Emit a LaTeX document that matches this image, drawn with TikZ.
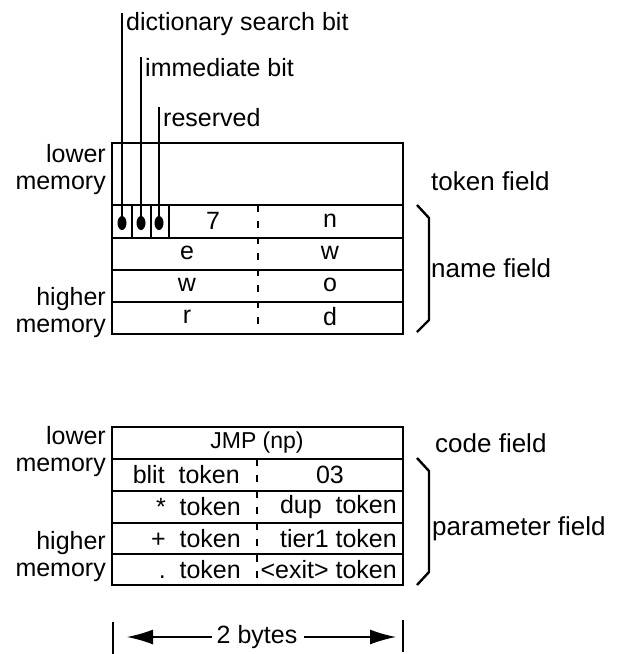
\documentclass[tikz,border=0pt]{standalone}
\usepackage{fontspec}
\setmainfont{Liberation Sans}
\usetikzlibrary{arrows.meta,positioning,shapes.geometric}

\begin{document}
\begin{tikzpicture}[
  x=1pt, y=-1pt,
  >={Latex[length=26pt,width=15pt]},
  every node/.style={font=\fontsize{25}{27}\selectfont, inner sep=0pt},
  frame/.style={line width=2pt},
  row/.style={line width=1.8pt},
  split/.style={line width=1.6pt, dash pattern=on 7pt off 9pt},
  bitdot/.style={ellipse, fill, minimum width=9pt, minimum height=14pt},
  lead/.style={line width=1.6pt},
  memlab/.style={align=right, anchor=east},
  fieldlab/.style={anchor=west},
  brace/.style={line width=2.4pt, line join=round},
  dim/.style={line width=1.5pt}
]
\useasboundingbox (0,0) rectangle (620,654);

% header: token field and name field
\draw[frame] (112,143) rectangle (403,334);
\foreach \y in {205,238,270,302} \draw[row] (112,\y) -- (403,\y);
\draw[split] (258,205) -- (258,334);
\foreach \x in {132,151,169} \draw[row] (\x,205) -- (\x,238);

% flag bits
\node[bitdot] (dsb) at (122,223) {};
\node[bitdot] (imm) at (141,223) {};
\node[bitdot] (res) at (159,223) {};
\coordinate (dsbtop) at (122,13);
\coordinate (immtop) at (141,57);
\coordinate (restop) at (159,107);
\draw[lead] (dsbtop) -- (dsb);
\draw[lead] (immtop) -- (imm);
\draw[lead] (restop) -- (res);
\node[anchor=west] (dsbtxt) at (126,24) {dictionary search bit};
\node[anchor=west] (immtxt) at (145,68) {immediate bit};
\node[anchor=west] (restxt) at (163,118) {reserved};

% name characters
\node (len) at (213,221) {7};
\node (ch1) at (330,221) {n};
\node (ch2) at (187,253) {e};
\node (ch3) at (330,253) {w};
\node (ch4) at (187,285) {w};
\node (ch5) at (330,285) {o};
\node (ch6) at (187,317) {r};
\node (ch7) at (330,317) {d};

\node[memlab] (lowtop) at (106,170) {lower\\memory};
\node[memlab] (hightop) at (106,313) {higher\\memory};
\node[fieldlab] (tokf) at (431,181) {\fontsize{26}{28}\selectfont token field};
\node[fieldlab] (namef) at (431,268) {\fontsize{26}{28}\selectfont name field};
\draw[brace] (417,205) -- (429,218) -- (429,320) -- (417,332);

% body: code field and parameter field
\draw[frame] (112,427) rectangle (403,585);
\foreach \y in {459,491,523,554} \draw[row] (112,\y) -- (403,\y);
\draw[split] (257,459) -- (257,585);

\node (jmp) at (257,443) {\fontsize{23}{25}\selectfont JMP (np)};
\node[anchor=east] (blit) at (240,475) {blit\ \ token};
\node (lit) at (330,475) {03};
\node[anchor=east] (star) at (241,507) {*\ \ token};
\node[anchor=east] (dup) at (397,507) {dup\ \ token};
\node[anchor=east] (plus) at (241,539) {+\ \ token};
\node[anchor=east] (tier) at (397,539) {tier1\ token};
\node[anchor=east] (dot) at (241,570) {.\ \ token};
\node[anchor=east] (exit) at (397,570) {<exit>\ token};

\node[memlab] (lowbot) at (106,452) {lower\\memory};
\node[memlab] (highbot) at (106,557) {higher\\memory};
\node[fieldlab] (codef) at (435,443) {\fontsize{26}{28}\selectfont code field};
\node[fieldlab] (paraf) at (432,529) {\fontsize{26}{28}\selectfont parameter field};
\draw[brace] (417,458) -- (429,471) -- (429,572) -- (417,585);

% width of a cell
\draw[dim] (113,622) -- (113,654);
\draw[dim] (403,620) -- (403,652);
\node (bytes) at (257,637) {2 bytes};
\coordinate (ltip) at (127,637);
\coordinate (rtip) at (396,637);
\draw[dim, ->, shorten <=5pt] (bytes) -- (ltip);
\draw[dim, ->, shorten <=6pt] (bytes) -- (rtip);
\end{tikzpicture}
\end{document}
